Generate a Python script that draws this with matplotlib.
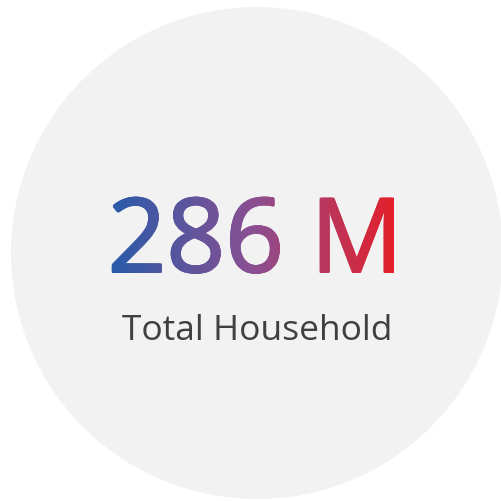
import numpy as np
import matplotlib
matplotlib.use("Agg")
import matplotlib.pyplot as plt
from matplotlib.patches import Circle
from matplotlib.patheffects import AbstractPathEffect
from matplotlib.transforms import TransformedPath, Affine2D
from matplotlib.colors import LinearSegmentedColormap

# KPI content
value = 286
unit = "M"
label = "Total Household"

# gradient stops for the headline number (left -> right)
gradient_colors = ["#2A5BA9", "#8B4F92", "#E5202B"]

W, H = 502, 501
fig = plt.figure(figsize=(W / 100, H / 100), dpi=100)
ax = fig.add_axes([0, 0, 1, 1])
ax.set_xlim(0, W)
ax.set_ylim(H, 0)
ax.set_aspect("equal")
ax.axis("off")

ax.add_patch(Circle((257, 253), 246, facecolor="#F2F2F2", edgecolor="none"))


class GradientFill(AbstractPathEffect):
    """Fill text glyphs with a horizontal colour gradient, slightly emboldened."""

    def __init__(self, colors, embolden=0.9):
        super().__init__()
        self.cmap = LinearSegmentedColormap.from_list("kpi", colors)
        self.embolden = embolden

    def draw_path(self, renderer, gc, tpath, affine, rgbFace=None):
        r = self.embolden
        ext = affine.transform_path(tpath).get_extents()
        x0, y0 = int(np.floor(ext.x0 - r)), int(np.floor(ext.y0 - r))
        w = int(np.ceil(ext.x1 + r)) - x0 + 1
        h = int(np.ceil(ext.y1 + r)) - y0 + 1
        row = self.cmap(np.linspace(0, 1, w))
        img = (np.repeat(row[np.newaxis, :, :], h, axis=0) * 255).astype(np.uint8)
        # square offsets keep the glyph corners sharp
        offsets = [(0, 0), (-r, 0), (r, 0), (0, -r), (0, r),
                   (-r, -r), (r, -r), (-r, r), (r, r)]
        for dx, dy in offsets:
            gc0 = renderer.new_gc()
            gc0.copy_properties(gc)
            shifted = affine + Affine2D().translate(dx, dy)
            gc0.set_clip_path(TransformedPath(tpath, shifted))
            renderer.draw_image(gc0, x0, y0, img)
            gc0.restore()


ax.text(255.5, 272, f"{value} {unit}", ha="center", va="baseline",
        fontsize=74, family="Open Sans",
        color=gradient_colors[1],
        path_effects=[GradientFill(gradient_colors)])

ax.text(257.5, 340, label, ha="center", va="baseline",
        fontsize=25.5, family="Open Sans", color="#404040")

fig.savefig("out.png", dpi=100)
